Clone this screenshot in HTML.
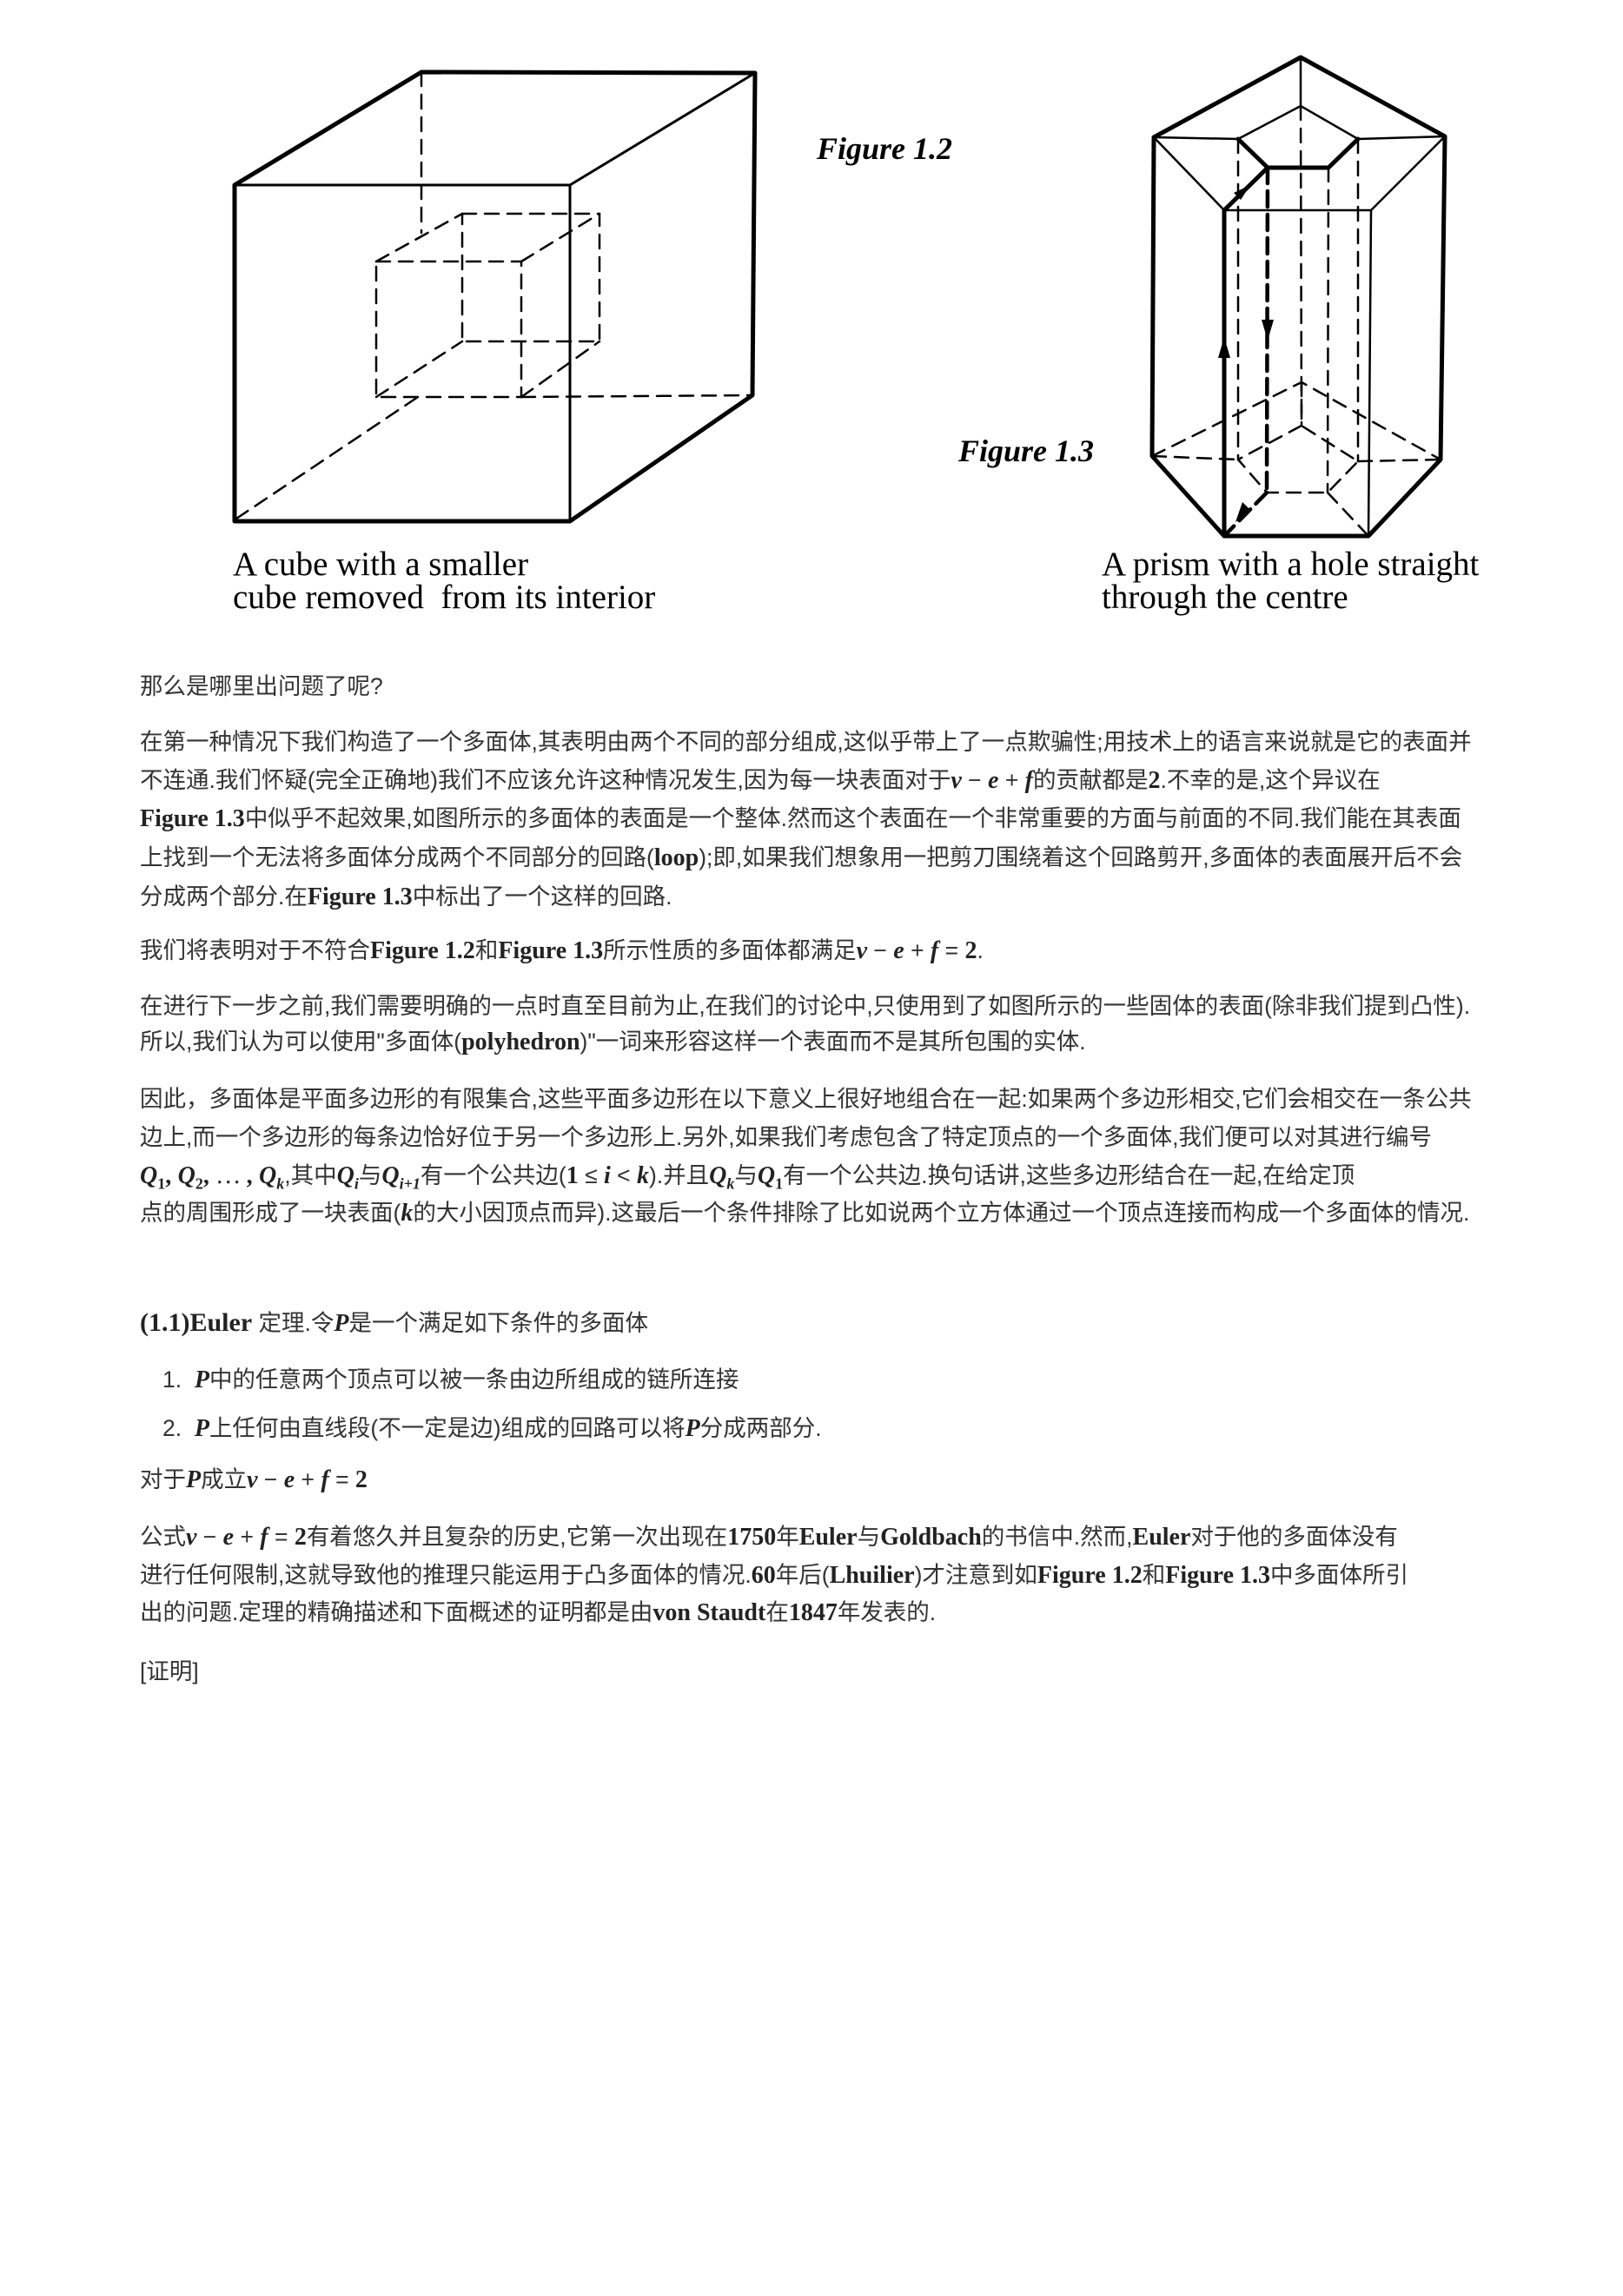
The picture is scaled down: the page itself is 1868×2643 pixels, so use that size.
<!DOCTYPE html>
<html><head><meta charset="utf-8">
<style>
body{margin:0;background:#fff;}
#p{position:relative;width:1868px;height:2643px;overflow:hidden;background:#fff;}
.l{position:absolute;left:161px;white-space:nowrap;font-family:"Liberation Sans","Noto Sans CJK SC",sans-serif;font-size:26.5px;line-height:36px;height:36px;color:#333;}
.m{font-family:"Liberation Serif",serif;font-weight:bold;font-size:28px;color:#222;}
.i{font-family:"Liberation Serif",serif;font-style:italic;font-weight:bold;font-size:28px;color:#222;}
.cap{position:absolute;font-family:"Liberation Serif",serif;font-size:39px;line-height:38px;color:#000;white-space:nowrap;}
.fig{position:absolute;font-family:"Liberation Serif",serif;font-style:italic;font-weight:bold;font-size:36px;color:#000;white-space:nowrap;}
</style></head><body><div id="p">
<svg width="1868" height="700" style="position:absolute;left:0;top:0" xmlns="http://www.w3.org/2000/svg">
<g stroke="#000" fill="none" stroke-linecap="round" stroke-linejoin="round">
<g stroke-width="5">
<polyline points="270,213 485,83 869,84 866,455 656,600 270,600 270,213"/>
</g>
<g stroke-width="3">
<line x1="270" y1="213" x2="656" y2="213"/>
<line x1="656" y1="213" x2="656" y2="600"/>
<line x1="656" y1="213" x2="869" y2="84"/>
</g>
<g stroke-width="2.5" stroke-dasharray="16,10">
<line x1="485" y1="83" x2="485" y2="268"/>
<line x1="272" y1="597" x2="481" y2="457"/>
<line x1="600" y1="457" x2="866" y2="455"/>
<rect x="433" y="301" width="167" height="156"/>
<rect x="532" y="246" width="158" height="147"/>
<line x1="433" y1="301" x2="532" y2="246"/>
<line x1="600" y1="301" x2="690" y2="246"/>
<line x1="433" y1="457" x2="532" y2="393"/>
<line x1="600" y1="457" x2="690" y2="393"/>
</g>
<g stroke-width="5">
<polyline points="1328,158 1497,66 1663,157 1658,529 1575,617 1409,617 1326,525 1328,158"/>
<polyline points="1425,160 1459,193 1529,193 1563,160"/>
<line x1="1459" y1="193" x2="1409" y2="242"/>
<line x1="1409" y1="242" x2="1409" y2="617"/>
</g>
<g stroke-width="2.5">
<line x1="1497" y1="66" x2="1497" y2="122"/>
<polyline points="1425,160 1497,122 1563,160"/>
<line x1="1328" y1="158" x2="1425" y2="160"/>
<line x1="1563" y1="160" x2="1663" y2="157"/>
<line x1="1328" y1="158" x2="1409" y2="242"/>
<line x1="1663" y1="157" x2="1578" y2="242"/>
<line x1="1409" y1="242" x2="1578" y2="242"/>
<line x1="1578" y1="242" x2="1575" y2="617"/>
</g>
<g stroke-width="2.5" stroke-dasharray="16,10">
<line x1="1425" y1="160" x2="1425" y2="529"/>
<line x1="1497" y1="122" x2="1498" y2="490"/>
<line x1="1529" y1="193" x2="1528" y2="567"/>
<line x1="1563" y1="160" x2="1563" y2="531"/>
<polyline points="1326,525 1498,440 1658,529"/>
<line x1="1326" y1="525" x2="1425" y2="529"/>
<line x1="1563" y1="531" x2="1658" y2="529"/>
<line x1="1498" y1="440" x2="1498" y2="490"/>
<polyline points="1498,490 1425,529 1458,567 1528,567 1563,531 1498,490"/>
<line x1="1528" y1="567" x2="1575" y2="617"/>
</g>
<g stroke-width="4.5" stroke-dasharray="18,9">
<line x1="1459" y1="193" x2="1458" y2="567"/>
<line x1="1458" y1="567" x2="1409" y2="617"/>
</g>
</g>
<g fill="#000">
<polygon points="1409,388 1402,412 1416,412"/>
<polygon points="1459,392 1452,368 1466,368"/>
<polygon points="1439,213 1420,222 1428,230"/>
<polygon points="1422,601 1430,578 1440,588"/>
</g>
</svg>
<div class="fig" style="left:940px;top:150px">Figure 1.2</div>
<div class="fig" style="left:1103px;top:498px">Figure 1.3</div>
<div class="cap" style="left:268px;top:631px">A cube with a smaller</div>
<div class="cap" style="left:268px;top:669px">cube removed&nbsp; from its interior</div>
<div class="cap" style="left:1268px;top:631px">A prism with a hole straight</div>
<div class="cap" style="left:1268px;top:669px">through the centre</div>

<div class="l" style="top:772px">那么是哪里出问题了呢?</div>
<div class="l" style="top:836px">在第一种情况下我们构造了一个多面体,其表明由两个不同的部分组成,这似乎带上了一点欺骗性;用技术上的语言来说就是它的表面并</div>
<div class="l" style="top:880px">不连通.我们怀疑(完全正确地)我们不应该允许这种情况发生,因为每一块表面对于<span class="i">v</span> − <span class="i">e</span> + <span class="i">f</span>的贡献都是<span class="m">2</span>.不幸的是,这个异议在</div>
<div class="l" style="top:924px"><span class="m">Figure 1.3</span>中似乎不起效果,如图所示的多面体的表面是一个整体.然而这个表面在一个非常重要的方面与前面的不同.我们能在其表面</div>
<div class="l" style="top:969px">上找到一个无法将多面体分成两个不同部分的回路(<span class="m">loop</span>);即,如果我们想象用一把剪刀围绕着这个回路剪开,多面体的表面展开后不会</div>
<div class="l" style="top:1014px">分成两个部分.在<span class="m">Figure 1.3</span>中标出了一个这样的回路.</div>
<div class="l" style="top:1076px">我们将表明对于不符合<span class="m">Figure 1.2</span>和<span class="m">Figure 1.3</span>所示性质的多面体都满足<span class="i">v</span> − <span class="i">e</span> + <span class="i">f</span> = <span class="m">2</span>.</div>
<div class="l" style="top:1140px">在进行下一步之前,我们需要明确的一点时直至目前为止,在我们的讨论中,只使用到了如图所示的一些固体的表面(除非我们提到凸性).</div>
<div class="l" style="top:1181px">所以,我们认为可以使用"多面体(<span class="m">polyhedron</span>)"一词来形容这样一个表面而不是其所包围的实体.</div>
<div class="l" style="top:1247px">因此，多面体是平面多边形的有限集合,这些平面多边形在以下意义上很好地组合在一起:如果两个多边形相交,它们会相交在一条公共</div>
<div class="l" style="top:1291px">边上,而一个多边形的每条边恰好位于另一个多边形上.另外,如果我们考虑包含了特定顶点的一个多面体,我们便可以对其进行编号</div>
<div class="l" style="top:1335px"><span class="i">Q</span><sub class="m" style="font-size:18px">1</sub><span class="m">,</span> <span class="i">Q</span><sub class="m" style="font-size:18px">2</sub><span class="m">,</span> ⋯ <span class="m">,</span> <span class="i">Q<sub style="font-size:18px">k</sub></span>,其中<span class="i">Q<sub style="font-size:18px">i</sub></span>与<span class="i">Q<sub style="font-size:18px">i+1</sub></span>有一个公共边(<span class="m">1</span> ≤ <span class="i">i</span> &lt; <span class="i">k</span>).并且<span class="i">Q<sub style="font-size:18px">k</sub></span>与<span class="i">Q</span><sub class="m" style="font-size:18px">1</sub>有一个公共边.换句话讲,这些多边形结合在一起,在给定顶</div>
<div class="l" style="top:1378px">点的周围形成了一块表面(<span class="i">k</span>的大小因顶点而异).这最后一个条件排除了比如说两个立方体通过一个顶点连接而构成一个多面体的情况.</div>
<div class="l" style="top:1505px"><span class="m" style="font-size:30px">(1.1)Euler</span> 定理.令<span class="i">P</span>是一个满足如下条件的多面体</div>
<div class="l" style="top:1570px;left:187px">1.&nbsp; <span class="i">P</span>中的任意两个顶点可以被一条由边所组成的链所连接</div>
<div class="l" style="top:1626px;left:187px">2.&nbsp; <span class="i">P</span>上任何由直线段(不一定是边)组成的回路可以将<span class="i">P</span>分成两部分.</div>
<div class="l" style="top:1685px">对于<span class="i">P</span>成立<span class="i">v</span> − <span class="i">e</span> + <span class="i">f</span> = <span class="m">2</span></div>
<div class="l" style="top:1751px">公式<span class="i">v</span> − <span class="i">e</span> + <span class="i">f</span> = <span class="m">2</span>有着悠久并且复杂的历史,它第一次出现在<span class="m">1750</span>年<span class="m">Euler</span>与<span class="m">Goldbach</span>的书信中.然而,<span class="m">Euler</span>对于他的多面体没有</div>
<div class="l" style="top:1795px">进行任何限制,这就导致他的推理只能运用于凸多面体的情况.<span class="m">60</span>年后(<span class="m">Lhuilier</span>)才注意到如<span class="m">Figure 1.2</span>和<span class="m">Figure 1.3</span>中多面体所引</div>
<div class="l" style="top:1838px">出的问题.定理的精确描述和下面概述的证明都是由<span class="m">von Staudt</span>在<span class="m">1847</span>年发表的.</div>
<div class="l" style="top:1906px">[证明]</div>
</div></body></html>
